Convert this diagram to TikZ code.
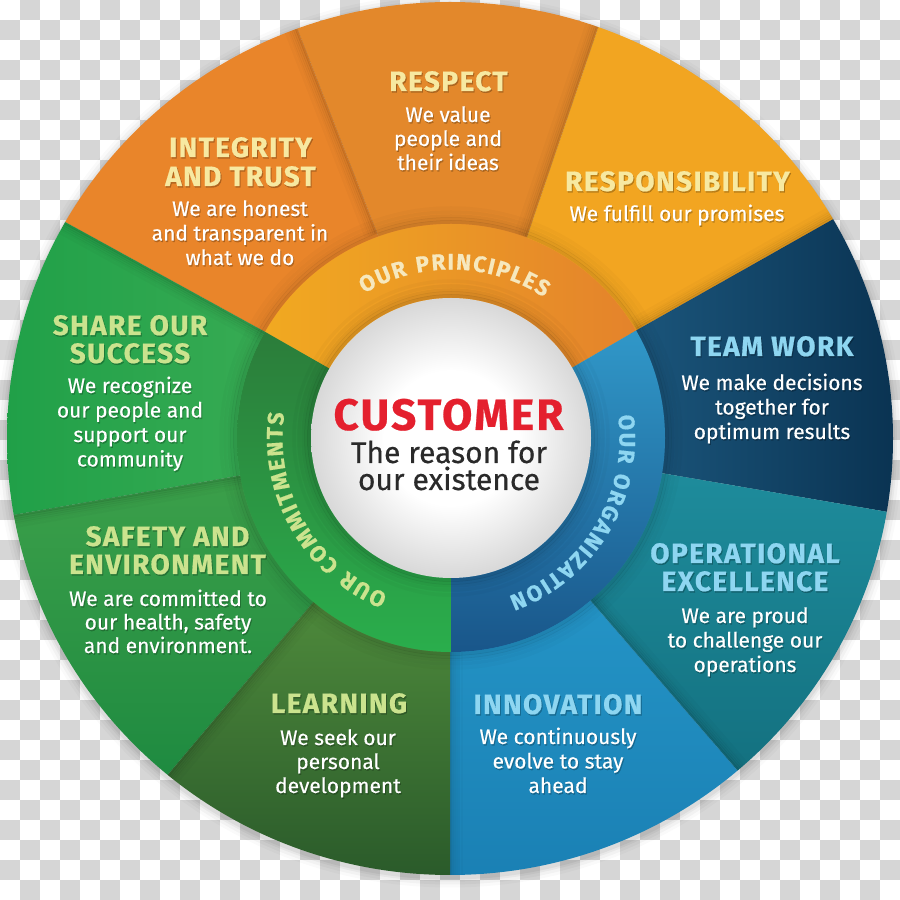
\documentclass[tikz,border=0pt]{standalone}
\usepackage{fontspec}
\setmainfont{Fira Sans}
\newfontfamily\ttlfam{Fira Sans}[LetterSpace=5, BoldFeatures={FakeBold=0.6}]
\newfontfamily\bdyfam{Fira Sans}[FakeBold=0.4]
\usetikzlibrary{calc,decorations.text}
\definecolor{chkgray}{HTML}{D6D6D6}
\definecolor{cInt}{HTML}{E9852A}
\definecolor{cRes}{HTML}{E3882B}
\definecolor{cRsp}{HTML}{F2A521}
\definecolor{cTwA}{HTML}{1B567C}\definecolor{cTwB}{HTML}{0A3352}
\definecolor{cOeA}{HTML}{1E8C9C}\definecolor{cOeB}{HTML}{13707F}
\definecolor{cInA}{HTML}{2494C6}\definecolor{cInB}{HTML}{1A80B4}
\definecolor{cLeA}{HTML}{4F8B3C}\definecolor{cLeB}{HTML}{2A5A2A}
\definecolor{cSaA}{HTML}{3CA04A}\definecolor{cSaB}{HTML}{1E8A40}
\definecolor{cShA}{HTML}{3DAE56}\definecolor{cShB}{HTML}{20A048}
\definecolor{rPl}{HTML}{F2AC20}\definecolor{rPr}{HTML}{E3802C}
\definecolor{rOt}{HTML}{38ADDD}\definecolor{rOm}{HTML}{2582B8}\definecolor{rOb}{HTML}{19568A}
\definecolor{rCt}{HTML}{2C6C34}\definecolor{rCm}{HTML}{2E8A3E}\definecolor{rCb}{HTML}{2AAE4C}
\definecolor{tO}{HTML}{F7E9A1}\definecolor{tG}{HTML}{CBE38E}\definecolor{tB}{HTML}{8ED6F1}
\definecolor{tPr}{HTML}{F6E8BE}
\definecolor{cRed}{HTML}{E4202E}\definecolor{cDark}{HTML}{2A2A2A}
\definecolor{discedge}{HTML}{D8D8D8}
\pgfdeclareradialshading{whitedisc}{\pgfpoint{0bp}{0bp}}{color(0bp)=(white); color(12bp)=(white); color(25bp)=(discedge); color(50bp)=(discedge)}
\newcommand\ringfont{\ttlfam\fontsize{22.5}{22.5}\selectfont\bfseries}
\newcommand\segshade[3]{\begin{scope}\clip #1; \shade[#2] #3; \end{scope}}
\newcommand\blk[6]{\foreach \tx [count=\k] in {#6}{%
  \node[#2, anchor=base, text=black, text opacity=0.22] (#1\k s) at ({#3+1},{#4+(\k-1)*#5+1.5}) {\tx};
  \node[#2, anchor=base] (#1\k) at (#3,{#4+(\k-1)*#5}) {\tx};}}
\begin{document}
\begin{tikzpicture}[x=1pt,y=1pt,
  ttl/.style={font=\ttlfam\bfseries\fontsize{28}{28}\selectfont, inner sep=0pt},
  ttlO/.style={ttl, text=tO}, ttlG/.style={ttl, text=tG}, ttlB/.style={ttl, text=tB},
  bdy/.style={font=\bdyfam\fontsize{21}{21}\selectfont, text=white, inner sep=0pt},
  cen/.style={font=\bdyfam\fontsize{30}{30}\selectfont, text=cDark, inner sep=0pt},
  shd/.style={black, line width=2.5pt}]
\useasboundingbox (0,0) rectangle (900,900);
\fill[white] (0,0) rectangle (900,900);
\foreach \j in {0,...,44}{%
  \foreach \i in {0,...,44}{%
    \pgfmathtruncatemacro\cellodd{mod(\i+\j,2)}%
    \ifnum\cellodd=1 \fill[chkgray] (20*\i,880-20*\j) rectangle +(20,20);\fi}}
\begin{scope}[shift={(0,900)}, yscale=-1]
  \foreach \k/\o in {10/0.02,7/0.03,4/0.04,2/0.05}
    \fill[black,opacity=\o] (450,441) ellipse ({443+\k} and {436.5+\k});
  \coordinate (C) at (451,438);
  \coordinate (B1i) at (267,333); \coordinate (B1f) at (-339,0);
  \coordinate (B2i) at (377,233); \coordinate (B2f) at (137,-382);
  \coordinate (B3i) at (527,237); \coordinate (B3f) at (740,-390);
  \coordinate (B4i) at (637,330); \coordinate (B4f) at (1237,-9);
  \coordinate (B5i) at (661,473); \coordinate (B5f) at (1342,590);
  \coordinate (B6i) at (590,600); \coordinate (B6f) at (1031,1110);
  \coordinate (B7i) at (450,650); \coordinate (B7f) at (450,1325);
  \coordinate (B8i) at (315,600); \coordinate (B8f) at (-120,1116);
  \coordinate (B9i) at (243,475); \coordinate (B9f) at (-447,595);
  \begin{scope}
    \clip (450,438.5) ellipse (443 and 436.5);
    \fill[cInt] (C)--(B1i)--(B1f)--(B2f)--(B2i)--cycle;
    \fill[cRes] (C)--(B2i)--(B2f)--(B3f)--(B3i)--cycle;
    \fill[cRsp] (C)--(B3i)--(B3f)--(B4f)--(B4i)--cycle;
    \segshade{(C)--(B4i)--(B4f)--(B5f)--(B5i)--cycle}{left color=cTwA,right color=cTwB}{(630,210) rectangle (895,520)}
    \segshade{(C)--(B5i)--(B5f)--(B6f)--(B6i)--cycle}{top color=cOeA,bottom color=cOeB}{(585,470) rectangle (895,780)}
    \segshade{(C)--(B6i)--(B6f)--(B7f)--(B7i)--cycle}{top color=cInA,bottom color=cInB}{(445,595) rectangle (745,880)}
    \segshade{(C)--(B7i)--(B7f)--(B8f)--(B8i)--cycle}{top color=cLeA,bottom color=cLeB}{(165,595) rectangle (455,880)}
    \segshade{(C)--(B8i)--(B8f)--(B9f)--(B9i)--cycle}{top color=cSaA,bottom color=cSaB}{(5,470) rectangle (320,780)}
    \segshade{(C)--(B9i)--(B9f)--(B1f)--(B1i)--cycle}{left color=cShB,right color=cShA}{(5,215) rectangle (330,520)}
    \foreach \a/\b in {B1i/B1f,B2i/B2f,B3i/B3f,B4i/B4f,B6i/B6f,B7i/B7f,B8i/B8f,B9i/B9f}{
      \foreach \d/\o in {1/0.12,3/0.08,5/0.06,7/0.04,9/0.03,12/0.02}
        \draw[shd, opacity=\o] ($(\a)!\d pt!-90:(\b)$) -- ($(\b)!\d pt!90:(\a)$);
    }
    \foreach \r/\o in {216/0.10,219/0.07,222/0.05,226/0.035,230/0.02}
      \draw[black,opacity=\o,line width=3.5pt] (C) circle (\r);
    \begin{scope}
      \clip (C) circle (214);
      \begin{scope}\clip (C)--(-101,123)--(-101,-300)--(1009,-300)--(1009,114)--cycle;
        \shade[left color=rPl,right color=rPr] (C) circle (214); \end{scope}
      \begin{scope}\clip (C)--(1009,114)--(1009,1100)--(450.5,1100)--(450.5,438)--cycle;
        \shade[top color=rOt,middle color=rOm,bottom color=rOb] (C) circle (214); \end{scope}
      \begin{scope}\clip (C)--(450.5,1100)--(-101,1100)--(-101,123)--cycle;
        \shade[top color=rCt,middle color=rCm,bottom color=rCb] (C) circle (214); \end{scope}
      \foreach \r/\o in {142/0.12,145/0.08,148/0.06,152/0.04,157/0.025}
        \draw[black,opacity=\o,line width=3.5pt] (C) circle (\r);
    \end{scope}
  \end{scope}
  \shade[shading=whitedisc] (C) circle (140);
  \node[font=\ttlfam\bfseries\fontsize{44}{44}\selectfont, text=cRed, anchor=base, inner sep=0pt] (cust) at (448.5,430) {CUSTOMER};
  \node[cen, anchor=base] (why1) at (449,463) {The reason for};
  \node[cen, anchor=base] (why2) at (449,490) {our existence};
  \blk{respT}{ttlO}{448.5}{91}{0}{RESPECT}
  \blk{respB}{bdy}{448}{122}{24}{We value,people and,their ideas}
  \blk{intT}{ttlO}{240.5}{157}{29}{INTEGRITY,AND TRUST}
  \blk{intB}{bdy}{240}{216}{24.5}{We are honest,and transparent in,what we do}
  \blk{rspT}{ttlO}{677.5}{191}{0}{RESPONSIBILITY}
  \blk{rspB}{bdy}{677}{221}{0}{We fulfill our promises}
  \blk{twT}{ttlB}{772}{356}{0}{TEAM WORK}
  \blk{twB}{bdy}{772}{390}{24.5}{We make decisions,together for,optimum results}
  \blk{oeT}{ttlB}{745}{563}{28}{OPERATIONAL,EXCELLENCE}
  \blk{oeB}{bdy}{745}{623}{24.5}{We are proud,to challenge our,operations}
  \blk{inT}{ttlB}{558}{714}{0}{INNOVATION}
  \blk{inB}{bdy}{558}{744}{24.5}{We continuously,evolve to stay,ahead}
  \blk{leT}{ttlG}{339}{713}{0}{LEARNING}
  \blk{leB}{bdy}{338}{745}{24}{We seek our,personal,development}
  \blk{saT}{ttlG}{167.5}{546}{28}{SAFETY AND,ENVIRONMENT}
  \blk{saB}{bdy}{168}{606}{23.5}{We are committed to,{our health, safety},and environment.}
  \blk{shT}{ttlG}{130}{335}{28}{SHARE OUR,SUCCESS}
  \blk{shB}{bdy}{130}{393}{24.5}{We recognize,our people and,support our,community}
\end{scope}
\path[decorate,decoration={text along path,text align=fit to path,
   text={|\ringfont\color{tPr}|OUR PRINCIPLES}}]
   ([shift={(121:168.5)}]451,462) arc[start angle=121,end angle=56.5,radius=168.5];
\path[decorate,decoration={text along path,text align=fit to path,
   text={|\ringfont\color{tB}|OUR ORGANIZATION}}]
   ([shift={(7.7:168.5)}]451,462) arc[start angle=7.7,end angle=-70,radius=168.5];
\path[decorate,decoration={text along path,text align=fit to path,
   text={|\ringfont\color{tG}|OUR COMMITMENTS}}]
   ([shift={(248:168.5)}]451,462) arc[start angle=248,end angle=171.5,radius=168.5];
\end{tikzpicture}
\end{document}
